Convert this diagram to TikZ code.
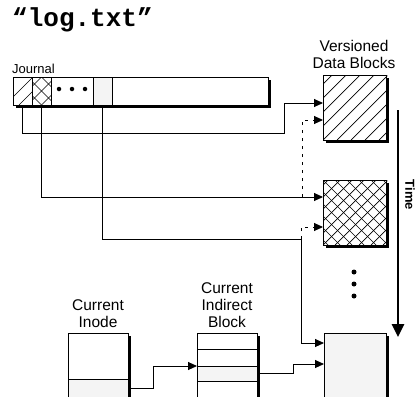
\documentclass[tikz,border=0pt]{standalone}
\usepackage{fontspec}
\setmainfont{Liberation Sans}
\setmonofont{Liberation Mono}
\usetikzlibrary{arrows.meta,shadows}
\definecolor{cellgray}{HTML}{F4F4F4}

\begin{document}
\begin{tikzpicture}[
x=1pt, y=-1pt,
box/.style={draw, line width=1.3pt, inner sep=0, anchor=north west, fill=white,
  drop shadow={shadow xshift=2.2pt, shadow yshift=-2.2pt, opacity=1, fill=black}},
cell/.style={draw, line width=0.6pt, inner sep=0, anchor=north west},
lbl/.style={align=center, inner sep=0, font=\fontsize{15.5}{17}\selectfont},
arrow/.style={-{Triangle[length=9pt,width=8pt]}, line width=0.9pt},
older/.style={arrow, dash pattern=on 3pt off 5pt},
hatch/.style={line width=0.7pt},
dot/.style={circle, fill, inner sep=0, minimum size=4.5pt}
]
\useasboundingbox (0,0) rectangle (417,396);
\clip (0,0) rectangle (417,396);

% titles
\node[anchor=west, inner sep=0, font=\ttfamily\bfseries\fontsize{26}{30}\selectfont] (title) at (12,20) {“log.txt”};
\node[anchor=south west, inner sep=0, font=\fontsize{13}{15}\selectfont] (jlabel) at (12,74) {Journal};

% journal
\node[box, minimum width=255pt, minimum height=28pt] (journal) at (13,77) {};
\node[cell, minimum width=19pt, minimum height=28pt] (c1) at (13,77) {};
\node[cell, minimum width=19pt, minimum height=28pt] (c2) at (32,77) {};
\node[cell, minimum width=42pt, minimum height=28pt] (c3) at (51,77) {};
\node[cell, fill=cellgray, minimum width=19pt, minimum height=28pt] (c4) at (93,77) {};
\begin{scope}
\clip (c1.north west) rectangle (c1.south east);
\foreach \s in {-8,6,20} \draw[hatch] (13+\s,105) -- ++(28,-28);
\end{scope}
\begin{scope}
\clip (c2.north west) rectangle (c2.south east);
\foreach \s in {-18.5,-4.5,9.5} {
  \draw[hatch] (32+\s,105) -- ++(28,-28);
  \draw[hatch] (32+\s,77) -- ++(28,28);
}
\end{scope}
\foreach \x in {59,72,85} \node[dot] at (\x,89) {};

% versioned blocks
\node[lbl, anchor=south] (vlabel) at (354,69) {Versioned\\Data Blocks};
\node[box, minimum width=63pt, minimum height=65pt] (vb1) at (323,75) {};
\begin{scope}
\clip (vb1.north west) rectangle (vb1.south east);
\foreach \s in {-70,-56,...,70} \draw[hatch] (323+\s,140) -- ++(65,-65);
\end{scope}
\node[box, minimum width=63pt, minimum height=65pt] (vb2) at (323,180) {};
\begin{scope}
\clip (vb2.north west) rectangle (vb2.south east);
\foreach \s in {-72,-60,...,72} {
  \draw[hatch] (323+\s,245) -- ++(65,-65);
  \draw[hatch] (323+\s,180) -- ++(65,65);
}
\end{scope}
\foreach \y in {272,284,296} \node[dot, minimum size=5pt] at (354,\y) {};
\node[box, fill=cellgray, minimum width=62pt, minimum height=80pt] (vb3) at (324,333) {};

% time
\coordinate (tstart) at (398,110);
\coordinate (tend) at (398,337);
\draw[line width=2.6pt, -{Triangle[length=13pt,width=12pt]}] (tstart) -- (tend);
\node[rotate=-90, inner sep=0, font=\bfseries\fontsize{13}{15}\selectfont] (time) at (410,195) {Time};

% current inode and indirect block
\node[lbl, anchor=south] (ilabel) at (98,328) {Current\\Inode};
\node[box, minimum width=60pt, minimum height=80pt] (inode) at (68,333) {};
\node[cell, fill=cellgray, minimum width=60pt, minimum height=18pt] (iptr) at (68,379) {};
\node[lbl, anchor=south] (blabel) at (227,328) {Current\\Indirect\\Block};
\node[box, minimum width=60pt, minimum height=80pt] (indirect) at (197,333) {};
\node[cell, fill=cellgray, minimum width=60pt, minimum height=15pt] (iblk) at (197,366) {};
\draw[line width=0.6pt] (indirect.west |- 0,349) -- (indirect.east |- 0,349);
\draw[line width=0.6pt] (indirect.west |- 0,381) -- (indirect.east |- 0,381);

% connectors
\coordinate (fork1) at (302,197);
\coordinate (fork2) at (301,239);
\draw[arrow] (c1.south) |- (284,133) |- (vb1.west |- 0,103);
\draw[arrow] (c2.south) |- (vb2.west |- 0,197);
\draw[arrow] (c4.south) |- (fork2) |- (vb3.west |- 0,343);
\draw[older] (fork1) |- (vb1.west |- 0,120);
\draw[older] (fork2) |- (vb2.west |- 0,227);
\draw[arrow] (iptr.east) -- ++(25,0) |- (indirect.west |- 0,366);
\draw[arrow] (iblk.east) -- ++(36,0) |- (vb3.west |- 0,364);

\end{tikzpicture}
\end{document}
